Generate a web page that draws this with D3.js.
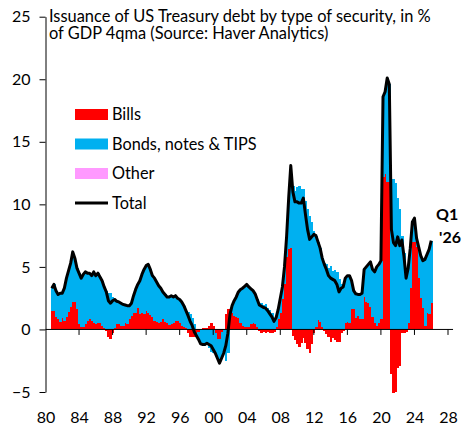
<!DOCTYPE html>
<html>
<head>
<meta charset="utf-8">
<script src="https://cdn.jsdelivr.net/npm/d3@7"></script>
<style>
  body { margin: 0; background: #fff; }
  svg text { font-family: Lato, "Liberation Sans", Arial, sans-serif; fill: #000; }
</style>
</head>
<body>
<div id="container"></div>
<script>
/* DATA (quarterly, % of GDP, 4qma) */
// first bar is 1980 Q4, one value per quarter up to 2026 Q1
const firstQuarter = 1980.75
const quarterStep = 0.25

const bills = [
  1.5, 1.5, 1.0, 0.8, 0.6, 0.9, 0.7, 1.0, 1.4, 1.8,
  2.2, 2.2, 1.6, 0.4, 0.2, 0.2, 0.4, 0.7, 0.8, 0.7,
  0.5, 0.4, 0.5, 0.5, 0.3, 0.1, -0.1, -0.6, -0.8, -0.3,
  0.1, 0.4, 0.4, 0.3, 0.3, 0.5, 0.4, 0.8, 1.1, 1.3,
  1.3, 1.7, 1.25, 1.3, 1.25, 1.45, 1.35, 1.15, 1.0, 0.65,
  0.6, 0.55, 0.6, 0.8, 0.6, 0.5, 0.35, 0.45, 0.5, 0.65,
  0.65, 0.5, 0.25, 0.2, 0.15, -0.3, -0.6, -0.6, -0.6, -0.4,
  -0.2, 0.0, 0.1, 0.1, 0.1, 0.3, 0.5, 0.3, -0.3, -0.8,
  -0.8, -0.2, 0.0, 1.2, 1.6, 1.2, 1.3, 1.1, 1.0, 0.9,
  0.5, 0.3, 0.2, 0.2, 0.2, 0.4, 0.5, 0.4, 0.2, -0.1,
  -0.3, -0.2, -0.3, -0.2, -0.3, -0.3, -0.2, 0.2, 0.8, 1.3,
  2.4, 3.6, 5.8, 6.4, 6.5, -0.5, -0.85, -1.2, -1.4, -1.1,
  -0.7, -1.1, -1.6, -1.9, -1.2, -0.3, 0.2, 0.75, 0.6, 0.2,
  -0.1, -0.4, -0.6, -1.0, -0.7, -0.85, -1.0, -1.0, -0.3, -0.1,
  0.5, 0.6, 0.5, 1.6, 1.6, 0.9, 1.1, 0.8, 0.8, 2.6,
  2.2, 2.1, 1.8, 1.0, 0.5, 0.3, 0.5, 0.8, 12.2, 12.4,
  11.8, 11.8, -3.6, -5.06, -5.0, -3.1, -2.9, -0.3, -0.25, -0.2,
  0.5, 3.3, 7.0, 7.0, 6.6, 4.1, 2.5, 1.7, 0.3, 1.3,
  1.2, 2.1
]

const bonds = [
  1.8, 2.1, 2.1, 2.0, 2.3, 2.0, 2.6, 3.1, 3.3, 3.5,
  4.0, 3.5, 3.3, 4.1, 3.9, 4.2, 4.2, 3.8, 3.7, 3.6,
  4.1, 3.9, 4.0, 3.7, 3.6, 3.3, 3.1, 2.9, 2.9, 2.6,
  2.3, 1.85, 1.8, 1.8, 1.7, 1.45, 1.5, 1.1, 1.0, 1.4,
  1.9, 1.9, 2.65, 3.1, 3.55, 3.65, 3.85, 3.65, 3.3, 3.45,
  3.2, 2.95, 2.7, 2.2, 2.2, 2.1, 2.25, 2.25, 2.1, 2.05,
  1.85, 1.9, 1.95, 1.7, 1.35, 1.4, 1.25, 0.9, 0.4, -0.1,
  -0.6, -1.15, -1.3, -1.3, -1.2, -1.5, -1.8, -1.9, -1.6, -1.5,
  -1.9, -2.1, -1.9, -2.5, -1.9, 0.0, 0.6, 1.2, 1.6, 2.1,
  2.7, 3.0, 3.25, 3.4, 3.2, 2.85, 2.6, 2.45, 2.2, 2.05,
  2.15, 1.95, 2.0, 1.7, 1.55, 1.3, 0.85, 0.75, 0.8, 1.2,
  1.0, 1.4, 1.6, 4.1, 6.6, 11.5, 11.05, 11.4, 11.5, 11.2,
  11.2, 10.3, 9.6, 9.1, 8.6, 7.9, 7.3, 6.25, 5.9, 5.5,
  5.3, 5.2, 4.9, 5.1, 4.7, 4.75, 4.6, 4.0, 3.6, 3.5,
  3.6, 3.7, 3.8, 2.3, 1.5, 1.95, 1.7, 2.0, 2.1, 2.2,
  2.8, 3.1, 3.6, 3.8, 4.1, 4.7, 4.7, 4.7, 6.4, 6.6,
  8.3, 7.8, 11.6, 12.0, 11.7, 10.5, 9.6, 7.45, 6.1, 4.3,
  4.4, 3.2, 1.6, 1.9, 0.7, 2.5, 3.4, 3.8, 5.3, 4.7,
  5.2, 5.0
]

const other = [
  0, 0, 0, 0, 0, 0, 0, 0, 0, 0,
  0, 0, 0, 0, 0, 0, 0, 0, 0, 0,
  0, 0, 0, 0, 0, 0, 0, 0, 0, 0,
  0, 0, 0, 0, 0, 0, 0, 0, 0, 0,
  0, 0, 0, 0, 0, 0, 0, 0, 0, 0,
  0, 0, 0, 0, 0, 0, 0, 0, 0, 0,
  0, 0, 0, 0, 0, 0, 0, 0, 0, 0,
  0, 0, 0, 0, 0, 0, 0, 0, 0, 0,
  0, 0, 0, 0, 0, 0, 0, 0, 0, 0,
  0, 0, 0, 0, 0, 0, 0, 0, 0, 0,
  0, 0, 0, 0, 0, 0, 0, 0, 0, 0,
  0, 0, 0, 0, 0, 0, 0, 0, 0, 0,
  0, 0, 0, 0, 0, 0, 0, 0, 0, 0,
  0, 0, 0, 0, 0, 0, 0, 0, 0, 0,
  0, 0, 0, 0, 0, 0, 0, 0, 0, 0,
  0, 0, 0, 0, 0, 0, 0, 0, 0, 0,
  0, 0, 0, 0, 0, 0, 0, 0, 0, 0,
  0, 0, 0, 0, 0, 0, 0, 0, 0, 0,
  0, 0
]

const xTickYears = [1980, 1984, 1988, 1992, 1996, 2000, 2004, 2008, 2012, 2016, 2020, 2024, 2028]
const xTickLabels = ["80", "84", "88", "92", "96", "00", "04", "08", "12", "16", "20", "24", "28"]
const yTicks = [-5, 0, 5, 10, 15, 20, 25]

const seriesKeys = ["bills", "bonds", "other"]
const seriesNames = ["Bills", "Bonds, notes & TIPS", "Other"]
const titleLines = ["Issuance of US Treasury debt by type of security, in %", "of GDP 4qma (Source: Haver Analytics)"]


/* CONSTANTS AND GLOBALS */
const width = 476,
  height = 430
const colors = { bills: "#ff0000", bonds: "#00b0f0", other: "#ff99ff" }

// table for the stack layout
const data = bills.map((b, i) => ({
  t: firstQuarter + i * quarterStep,
  bills: b,
  bonds: bonds[i],
  other: other[i],
  total: b + bonds[i] + other[i]
}))

// + SCALES
const xScale = d3.scaleLinear()
  .domain([1980, 2028])
  .range([45.5, 448])

const yScale = d3.scaleLinear()
  .domain([-5, 25])
  .range([392, 16.7])

const barW = xScale(firstQuarter + quarterStep) - xScale(firstQuarter)

// CREATE SVG ELEMENT
const svg = d3.select("#container")
  .append("svg")
  .attr("width", width)
  .attr("height", height)

// STACKED BARS (negatives stack downwards, like the spreadsheet)
const stacked = d3.stack()
  .keys(seriesKeys)
  .offset(d3.stackOffsetDiverging)(data)

svg.append("g")
  .attr("shape-rendering", "crispEdges")
  .selectAll("g")
  .data(stacked)
  .join("g")
  .attr("fill", s => colors[s.key])
  .selectAll("rect")
  .data(s => s)
  .join("rect")
  .attr("x", d => xScale(d.data.t) - barW / 2)
  .attr("width", barW + 0.6)
  .attr("y", d => yScale(Math.max(d[0], d[1])))
  .attr("height", d => Math.abs(yScale(d[0]) - yScale(d[1])))

// BUILD AND CALL AXES
const yAxis = d3.axisLeft(yScale)
  .tickValues(yTicks)
  .tickSize(6)
  .tickSizeOuter(0)
  .tickPadding(9)

const yAxisGroup = svg.append("g")
  .attr("transform", `translate(${xScale(1980)}, 0)`)
  .call(yAxis)
yAxisGroup.selectAll("text")
  .style("font-size", "16px")
  .style("font-family", "Lato, sans-serif")
yAxisGroup.selectAll("path, line").attr("stroke", "#000")

// x axis sits on zero, ticks point down
const zeroY = yScale(0)
svg.append("line")
  .attr("x1", xScale(1980)).attr("x2", xScale(2028.6))
  .attr("y1", zeroY).attr("y2", zeroY)
  .attr("stroke", "#000")

svg.append("g")
  .selectAll("line")
  .data(xTickYears.slice(1))
  .join("line")
  .attr("x1", d => xScale(d)).attr("x2", d => xScale(d))
  .attr("y1", zeroY).attr("y2", zeroY + 5.5)
  .attr("stroke", "#000")

svg.append("g")
  .selectAll("text")
  .data(xTickYears)
  .join("text")
  .attr("x", d => xScale(d) + 0.5)
  .attr("y", 417)
  .attr("dy", "0.35em")
  .style("text-anchor", "middle")
  .style("font-size", "16px")
  .text((d, i) => xTickLabels[i])

// DRAW TOTAL LINE
const lineGen = d3.line()
  .x(d => xScale(d.t))
  .y(d => yScale(d.total))

svg.append("path")
  .datum(data)
  .attr("fill", "none")
  .attr("stroke", "#000")
  .attr("stroke-width", 3)
  .attr("stroke-linejoin", "round")
  .attr("d", lineGen)

// TITLE
svg.append("g")
  .selectAll("text")
  .data(titleLines)
  .join("text")
  .attr("x", 49)
  .attr("y", (d, i) => 16 + i * 17.5)
  .attr("dy", "0.35em")
  .style("font-size", "16.4px")
  .text(d => d)

// LEGEND
const legend = svg.append("g")
  .attr("transform", "translate(75, 114.5)")

legend.selectAll("rect")
  .data(seriesKeys)
  .join("rect")
  .attr("x", 0)
  .attr("y", (d, i) => i * 29.5 - 5.5)
  .attr("width", 33)
  .attr("height", 11)
  .attr("fill", d => colors[d])

legend.append("line")
  .attr("x1", 0).attr("x2", 33)
  .attr("y1", 3 * 29.5).attr("y2", 3 * 29.5)
  .attr("stroke", "#000")
  .attr("stroke-width", 3)

legend.selectAll("text")
  .data(seriesNames.concat(["Total"]))
  .join("text")
  .attr("x", 37)
  .attr("y", (d, i) => i * 29.5)
  .attr("dy", "0.35em")
  .style("font-size", "16.3px")
  .text(d => d)

// LAST QUARTER NOTE
svg.append("text")
  .attr("x", 436).attr("y", 214)
  .attr("dy", "0.35em")
  .style("font-size", "16px")
  .style("font-weight", "bold")
  .text("Q1")

svg.append("text")
  .attr("x", 439).attr("y", 237)
  .attr("dy", "0.35em")
  .style("font-size", "16px")
  .style("font-weight", "bold")
  .text("'26")
</script>
</body>
</html>
